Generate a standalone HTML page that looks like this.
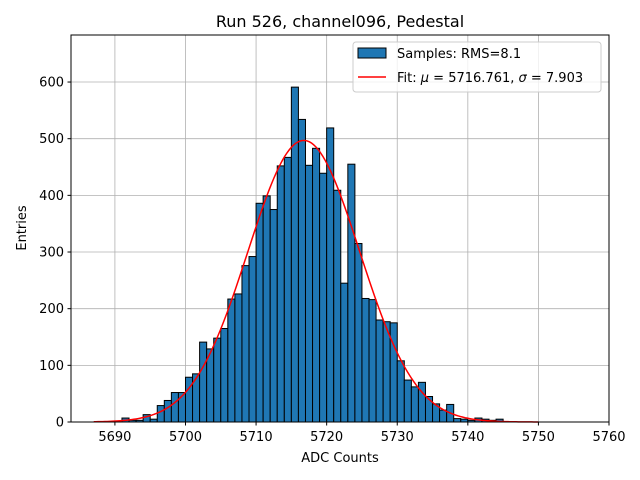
<!DOCTYPE html>
<html><head><meta charset="utf-8"><style>
body{margin:0;background:#fff;position:relative;width:640px;height:480px;overflow:hidden}
svg text{font-family:"DejaVu Sans","Liberation Sans",sans-serif;}
#chart{position:absolute;left:0;top:0}
</style></head><body>
<svg id="chart" width="640" height="480" xmlns="http://www.w3.org/2000/svg">
<rect width="640" height="480" fill="#fff"/>
<g id="grid"></g><g id="bars"></g><g id="fit"></g><g id="axes"></g>
<text x="340" y="27" text-anchor="middle" font-size="16">Run 526, channel096, Pedestal</text>
<text x="340" y="462" text-anchor="middle" font-size="13">ADC Counts</text>
<text transform="translate(26,228) rotate(-90)" text-anchor="middle" font-size="13">Entries</text>
<g>
<rect x="353" y="42" width="248" height="50" rx="3" fill="#fff" fill-opacity="0.8" stroke="#ccc"/>
<rect x="358" y="48" width="28" height="10" fill="#1f77b4" stroke="#000"/>
<text x="397" y="58" font-size="13">Samples: RMS=8.1</text>
<line x1="358" x2="386" y1="77" y2="77" stroke="red" stroke-width="1.5"/>
<text x="397" y="82" font-size="13">Fit: <tspan font-style="italic">μ</tspan> = 5716.761, <tspan font-style="italic">σ</tspan> = 7.903</text>
</g>
</svg>
<script>
const binStarts=[5691,5692,5693,5694,5695,5696,5697,5698,5699,5700,5701,5702,5703,5704,5705,5706,5707,5708,5709,5710,5711,5712,5713,5714,5715,5716,5717,5718,5719,5720,5721,5722,5723,5724,5725,5726,5727,5728,5729,5730,5731,5732,5733,5734,5735,5736,5737,5738,5739,5740,5741,5742,5743,5744];
const counts=[7,3,3,13,5,29,38,52,52,79,85,141,129,148,165,217,226,276,292,386,399,375,452,467,591,534,453,483,439,519,409,245,455,315,218,216,180,177,175,108,74,62,70,45,32,21,31,6,5,3,7,5,3,5];
const xTicks=[5690,5700,5710,5720,5730,5740,5750,5760];
const yTicks=[0,100,200,300,400,500,600];
const fitMu=5716.761, fitSigma=7.903, fitAmp=497, fitMin=5687, fitMax=5750;
const X0=71,X1=609,Y0=422,Y1=35,xmin=5683.78,xmax=5760,ymin=0,ymax=683;
const sx=v=>X0+(v-xmin)/(xmax-xmin)*(X1-X0);
const sy=v=>Y0-(v-ymin)/(ymax-ymin)*(Y0-Y1);
const NS='http://www.w3.org/2000/svg';
function mk(tag,parent,attrs){const e=document.createElementNS(NS,tag);for(const k in attrs)e.setAttribute(k,attrs[k]);parent.appendChild(e);return e;}
const grid=document.getElementById('grid'),bars=document.getElementById('bars'),fit=document.getElementById('fit'),axes=document.getElementById('axes');
xTicks.forEach(t=>{const l=mk('line',grid,{x1:sx(t),x2:sx(t),y1:Y1,y2:Y0,stroke:'#b0b0b0','stroke-width':0.8});

});
yTicks.forEach(t=>{const l=mk('line',grid,{x1:X0,x2:X1,y1:sy(t),y2:sy(t),stroke:'#b0b0b0','stroke-width':0.8});

});
binStarts.forEach((b,i)=>{const x=sx(b),w=sx(b+1)-x,y=sy(counts[i]);
const r=mk('rect',bars,{x:x,y:y,width:w,height:Y0-y,fill:'#1f77b4',stroke:'#000','stroke-width':1});

});
let d='';for(let i=0;i<=200;i++){const v=fitMin+(fitMax-fitMin)*i/200;const c=fitAmp*Math.exp(-0.5*((v-fitMu)/fitSigma)**2);d+=(i?'L':'M')+sx(v).toFixed(2)+','+sy(c).toFixed(2);}
const p=mk('path',fit,{d:d,fill:'none',stroke:'red','stroke-width':1.5});


const fr=mk('rect',axes,{x:X0,y:Y1,width:X1-X0,height:Y0-Y1,fill:'none',stroke:'#000','stroke-width':1});


xTicks.forEach(t=>{mk('line',axes,{x1:sx(t),x2:sx(t),y1:Y0,y2:Y0+3.5,stroke:'#000'});
const tx=mk('text',axes,{x:sx(t),y:Y0+19,'text-anchor':'middle','font-size':13});tx.textContent=t;

});
yTicks.forEach(t=>{mk('line',axes,{x1:X0-3.5,x2:X0,y1:sy(t),y2:sy(t),stroke:'#000'});
const tx=mk('text',axes,{x:X0-7,y:sy(t)+4.5,'text-anchor':'end','font-size':13});tx.textContent=t;

});
</script>
</body></html>
